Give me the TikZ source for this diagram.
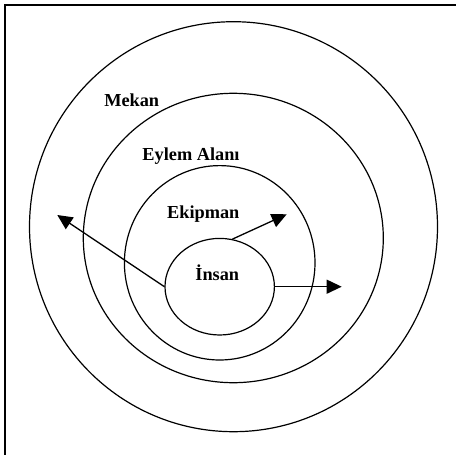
\documentclass[tikz,border=0pt]{standalone}
\usepackage{fontspec}
\setmainfont{Liberation Serif}
\usetikzlibrary{shapes.geometric,arrows.meta}
\tikzset{
  ring/.style={draw, ellipse, line width=1.2pt, inner sep=0pt},
  lbl/.style={font=\fontsize{18.3}{20}\selectfont\bfseries, inner sep=0pt},
  push/.style={line width=1.3pt, -{Triangle[length=15pt,width=14pt]}}
}
\begin{document}
\begin{tikzpicture}[x=1pt,y=-1pt]
    \useasboundingbox (0,0) rectangle (456,455);
    % frame (left and top edges only)
    \draw[line width=1.5pt] (5,455) -- (5,5) -- (456,5);

    % rings
    \node[ring, minimum width=408pt, minimum height=410pt] (mekan) at (233.5,226.7) {};
    \node[ring, minimum width=300pt, minimum height=289.4pt] (eylem) at (233.3,238) {};
    \node[ring, minimum width=190.6pt, minimum height=194.4pt] (ekipman) at (219.7,262.8) {};
    \node[ring, minimum width=109.4pt, minimum height=96.6pt] (insan) at (219.7,286.7) {};

    % labels
    \node[lbl] (mekanlbl) at (131.7,100.7) {Mekan};
    \node[lbl] (eylemlbl) at (191,156) {Eylem Alanı};
    \node[lbl] (ekipmanlbl) at (203.3,214.3) {Ekipman};
    \node[lbl] (insanlbl) at (217.3,272.7) {İnsan};

    % arrow ends
    \coordinate (tipa) at (57.3,215);
    \coordinate (tipb) at (286.7,214.3);
    \coordinate (tipc) at (341.7,286.7);

    \draw[push] (insan.west) -- (tipa);
    \draw[push] (insan.75) -- (tipb);
    \draw[push] (insan.east) -- (tipc);
\end{tikzpicture}
\end{document}
